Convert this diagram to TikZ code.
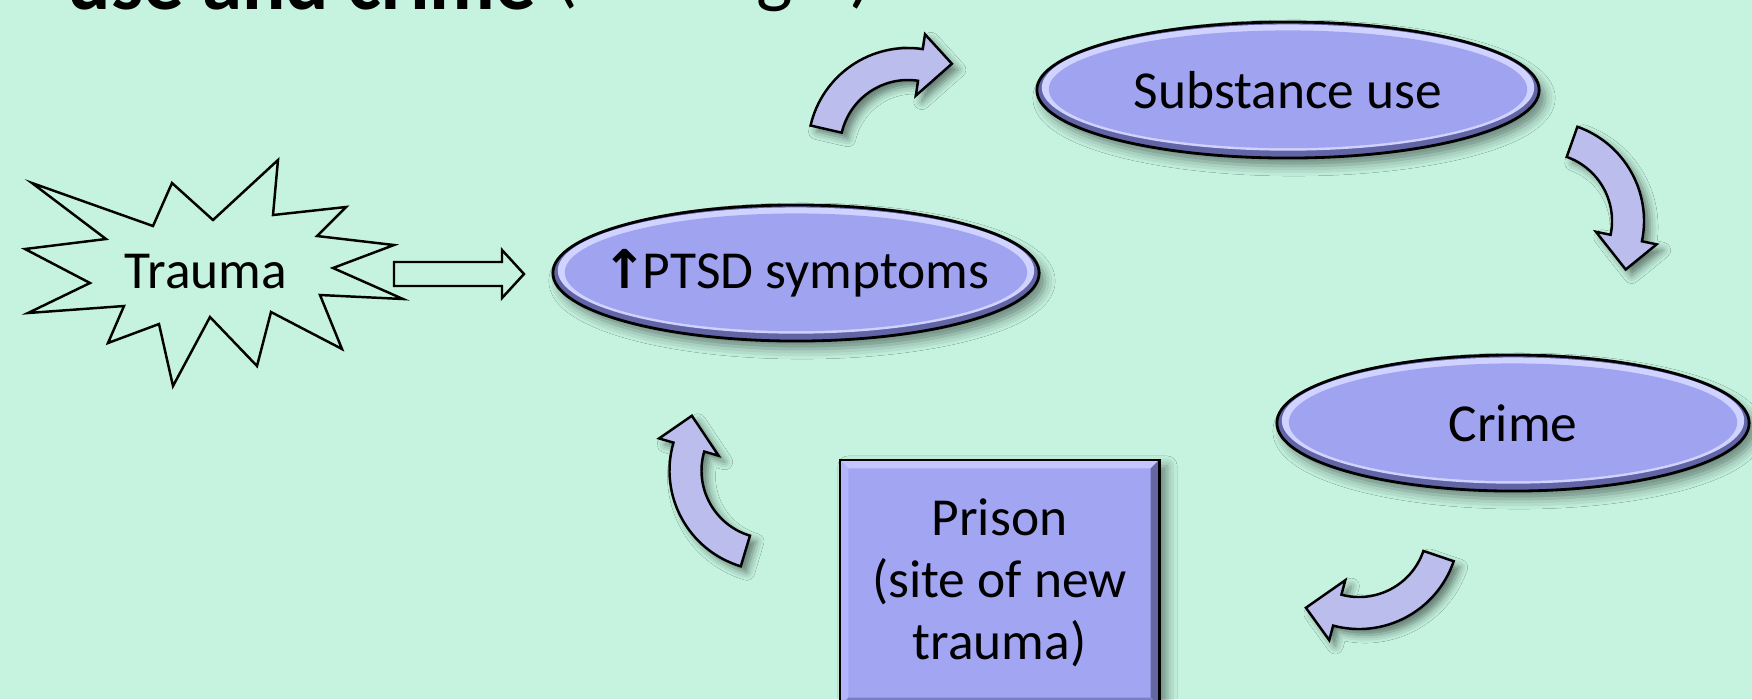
\documentclass[tikz,border=0pt]{standalone}
\usepackage{fontspec}
\setmainfont{Carlito}
\newfontfamily\arrowfont{DejaVu Sans}
\usetikzlibrary{calc}
\usetikzlibrary{shapes.geometric}
\usetikzlibrary{shadows.blur}
\definecolor{MyBackground}{RGB}{197, 243, 224}
\definecolor{ovalfill}{RGB}{160, 163, 240}
\definecolor{ovaldark}{RGB}{98, 101, 165}
\definecolor{ovallight}{RGB}{208, 211, 255}
\definecolor{boxfill}{RGB}{162, 165, 242}
\definecolor{boxtop}{RGB}{196, 199, 255}
\definecolor{boxleft}{RGB}{178, 181, 250}
\definecolor{boxright}{RGB}{100, 103, 160}
\definecolor{boxbottom}{RGB}{122, 125, 192}
\definecolor{arrowfill}{RGB}{187, 189, 237}
\newcommand{\nodefont}{\fontsize{15.2}{17.6}\selectfont}
\newcommand{\bentarrow}[3]{%
  \draw[bent] ($(#1)+(#2:100)$) arc[start angle=#2, end angle=#3, radius=100]
    -- ($(#1)+(#3:115)$) -- ($(#1)+(#3-19:95)$) -- ($(#1)+(#3:53)$)
    -- ($(#1)+(#3:68)$) arc[start angle=#3, end angle=#2, radius=68] -- cycle;}

\begin{document}
\begin{tikzpicture}[
  x=0.01cm, y=0.01cm,
  oval/.style={ellipse, draw=black, line width=0.8pt, fill=ovalfill, inner xsep=-10pt, inner ysep=0pt,
               minimum height=13.6mm, font=\nodefont,
               blur shadow={shadow xshift=0.6mm, shadow yshift=-0.8mm, shadow blur radius=1mm, shadow opacity=45},
               path picture={
                 \fill[ovaldark] let \p1=($(path picture bounding box.north east)-(path picture bounding box.center)$) in
                   (path picture bounding box.center) ellipse [x radius=\x1, y radius=\y1];
                 \fill[ovallight] let \p1=($(path picture bounding box.north east)-(path picture bounding box.center)$) in
                   ($(path picture bounding box.center)+(0,0.7pt)$) ellipse [x radius=\x1-1.4pt, y radius=\y1-1.4pt];
                 \fill[ovalfill] let \p1=($(path picture bounding box.north east)-(path picture bounding box.center)$) in
                   ($(path picture bounding box.center)+(0,0.2pt)$) ellipse [x radius=\x1-3.4pt, y radius=\y1-2.6pt];
               }},
  cell/.style={rectangle, draw=black, line width=0.8pt, fill=boxfill, align=center, font=\nodefont,
               blur shadow={shadow xshift=0.8mm, shadow yshift=-0.6mm, shadow blur radius=1mm, shadow opacity=45},
               path picture={
                 \fill[boxtop] let \p1=(path picture bounding box.south west), \p2=(path picture bounding box.north east) in
                   (\x1,\y2) -- (\x2,\y2) -- ({\x2-2.4pt},{\y2-2.4pt}) -- ({\x1+2.4pt},{\y2-2.4pt}) -- cycle;
                 \fill[boxleft] let \p1=(path picture bounding box.south west), \p2=(path picture bounding box.north east) in
                   (\x1,\y2) -- ({\x1+2.4pt},{\y2-2.4pt}) -- ({\x1+2.4pt},{\y1+2.4pt}) -- (\x1,\y1) -- cycle;
                 \fill[boxright] let \p1=(path picture bounding box.south west), \p2=(path picture bounding box.north east) in
                   (\x2,\y2) -- ({\x2-2.4pt},{\y2-2.4pt}) -- ({\x2-2.4pt},{\y1+2.4pt}) -- (\x2,\y1) -- cycle;
                 \fill[boxbottom] let \p1=(path picture bounding box.south west), \p2=(path picture bounding box.north east) in
                   (\x1,\y1) -- ({\x1+2.4pt},{\y1+2.4pt}) -- ({\x2-2.4pt},{\y1+2.4pt}) -- (\x2,\y1) -- cycle;
               }},
  burst/.style={draw=black, line width=0.7pt, line join=miter},
  hollow/.style={draw=black, line width=0.7pt},
  bent/.style={draw=black, line width=0.7pt, fill=arrowfill, line join=miter,
               blur shadow={shadow xshift=0.6mm, shadow yshift=-0.6mm, shadow blur radius=0.8mm, shadow opacity=50}}
]
\fill[MyBackground] (0,0) rectangle (1752,-699);
\useasboundingbox (0,0) rectangle (1752,-699);

\node[anchor=base west, inner sep=0pt] (caption) at (67,-9)
  {\fontsize{23}{27}\selectfont\bfseries use and crime \raisebox{3pt}{\fontsize{22}{26}\selectfont\mdseries (see Fig 1).}};

\draw[burst] (32,-183) -- (153,-226) -- (172,-183) -- (213,-220) -- (278,-160) -- (273,-215)
  -- (346,-207) -- (317,-236) -- (394,-245) -- (333,-268) -- (403,-299) -- (320,-295)
  -- (342,-349) -- (271,-312) -- (257,-366) -- (210,-317) -- (173,-386) -- (159,-324)
  -- (108,-343) -- (124,-306) -- (28,-313) -- (90,-283) -- (25,-249) -- (106,-239) -- cycle;
\node[font=\nodefont, inner sep=0pt] (trauma) at (206,-272) {Trauma};

\node[oval, minimum width=48.6mm] (ptsd)  at (796,-273)  {{\arrowfont\bfseries ↑}\kern-0.08em PTSD symptoms};
\node[oval, minimum width=50.2mm] (drugs) at (1288,-90)  {Substance use};
\node[oval, minimum width=47.2mm] (crime) at (1513,-423) {Crime};
\node[cell, minimum width=31.9mm, minimum height=24.6mm] (prison) at (999.5,-583)
  {Prison\\(site of new\\trauma)};

\coordinate (pushtail) at (394,-274);
\draw[hollow] (pushtail) ++(0,12) -- ++(108,0) -- ++(0,12) -- ++(22,-24) -- ++(-22,-24)
  -- ++(0,12) -- ++(-108,0) -- cycle;

\coordinate (pivotA) at (908,-148);
\coordinate (pivotB) at (1544,-221);
\coordinate (pivotC) at (1359,-529);
\coordinate (pivotD) at (769.5,-470.5);
\bentarrow{pivotA}{167}{81.5}
\bentarrow{pivotB}{70.5}{-11.7}
\bentarrow{pivotC}{-18.8}{-105}
\bentarrow{pivotD}{253.3}{163.8}
\end{tikzpicture}
\end{document}
